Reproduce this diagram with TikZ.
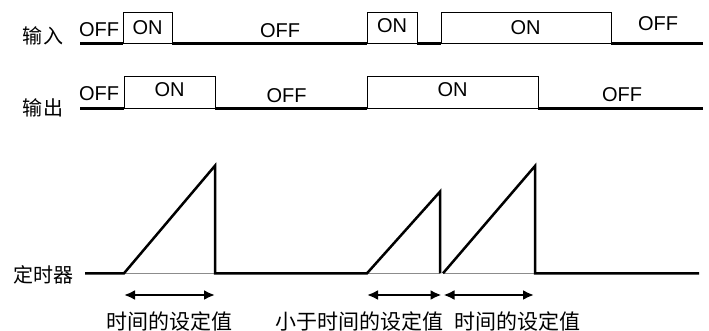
\documentclass[tikz,border=0pt]{standalone}
\usepackage{fontspec}
\setmainfont{Liberation Sans}
\newfontfamily\cjk{Noto Sans CJK SC}
\usetikzlibrary{arrows.meta}
\begin{document}
\begin{tikzpicture}[x=1pt,y=-1pt,
  sig/.style={line width=2.5pt},
  onbox/.style={line width=0.8pt},
  ramp/.style={line width=2.5pt, line join=miter},
  basegray/.style={black!45, line width=0.8pt},
  dim/.style={line width=2.2pt, {Latex[length=11pt,width=10pt]}-{Latex[length=11pt,width=10pt]}},
  lab/.style={font=\fontsize{20}{20}\selectfont, inner sep=0pt},
  cn/.style={font=\cjk\fontsize{20}{20}\selectfont, inner sep=0pt},
  cnb/.style={font=\cjk\fontsize{21}{21}\selectfont, inner sep=0pt},
]
\useasboundingbox (0,0) rectangle (709,331);

% ---- input row ----
\draw[sig] (80,43.5) -- (123,43.5);
\draw[onbox] (123,12) rectangle (172,43.5);
\draw[sig] (172,43.5) -- (367,43.5);
\draw[onbox] (367,12) rectangle (417,43.5);
\draw[sig] (417,43.5) -- (441,43.5);
\draw[onbox] (441,12) rectangle (611,43.5);
\draw[sig] (611,43.5) -- (703,43.5);

\node[cn] (lin) at (43,36) {输入};
\node[lab] (i1) at (99,29.5) {OFF};
\node[lab] (i2) at (147.5,27.5) {ON};
\node[lab] (i3) at (280,30.5) {OFF};
\node[lab] (i4) at (392,26) {ON};
\node[lab] (i5) at (525.5,28) {ON};
\node[lab] (i6) at (658,23.5) {OFF};

% ---- output row ----
\draw[sig] (80,108.3) -- (124,108.3);
\draw[onbox] (124,76.5) rectangle (215,108.3);
\draw[sig] (215,108.3) -- (367,108.3);
\draw[onbox] (367,76.5) rectangle (538,108.3);
\draw[sig] (538,108.3) -- (703,108.3);

\node[cn] (lout) at (43,107.5) {输出};
\node[lab] (o1) at (99,93.5) {OFF};
\node[lab] (o2) at (169.5,90) {ON};
\node[lab] (o3) at (286.5,95.5) {OFF};
\node[lab] (o4) at (452.5,90) {ON};
\node[lab] (o5) at (622,95) {OFF};

% ---- timer row ----
\draw[basegray] (124,273.3) -- (215,273.3);
\draw[basegray] (367,273.3) -- (440,273.3);
\draw[basegray] (443,273.3) -- (535,273.3);
\draw[ramp] (85,273.3) -- (124,273.3) -- (215,165.7) -- (215,273.3) -- (367,273.3)
  -- (440,191.7) -- (440,273.3);
\draw[ramp] (443,273.3) -- (535,166) -- (535,273.3) -- (699,273.3);

\node[cn] (ltim) at (43,274.5) {定时器};

\coordinate (a1) at (124,295);
\coordinate (a2) at (215,295);
\coordinate (b1) at (367,295);
\coordinate (b2) at (441.5,295);
\coordinate (c1) at (443.5,295);
\coordinate (c2) at (534,295);
\draw[dim] (a1) -- (a2);
\draw[dim] (b1) -- (b2);
\draw[dim] (c1) -- (c2);

\node[cnb] (t1) at (169,321) {时间的设定值};
\node[cnb] (t2) at (359,321) {小于时间的设定值};
\node[cnb] (t3) at (517,321) {时间的设定值};
\end{tikzpicture}
\end{document}
